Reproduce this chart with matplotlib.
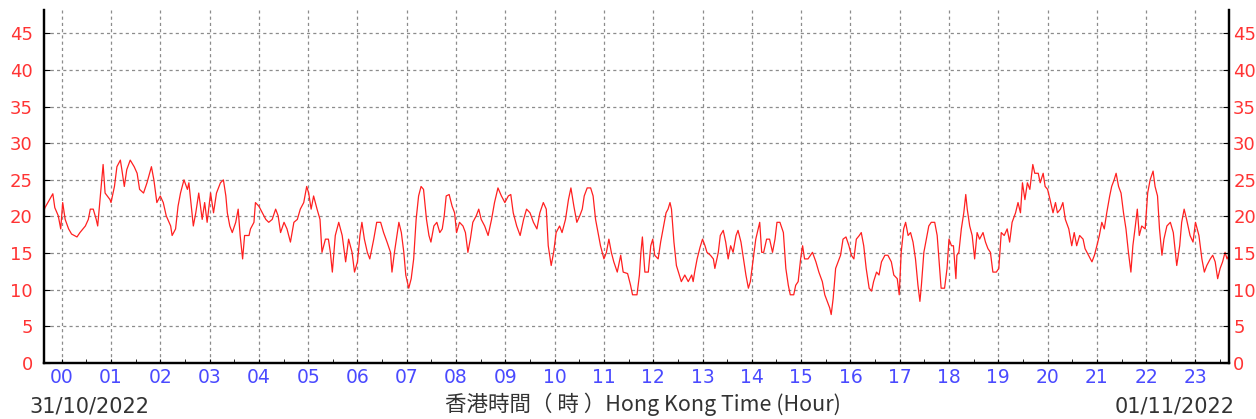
import matplotlib
matplotlib.use("Agg")
import matplotlib.pyplot as plt
from matplotlib.ticker import MultipleLocator

# hour of day (fractional) and reading
hours = [
    -0.36, -0.34, -0.18, -0.14, -0.07, -0.02, 0.02, 0.07, 0.14, 0.20, 0.31, 0.37, 0.48, 0.54, 0.58, 0.64,
    0.70, 0.73, 0.84, 0.88, 0.98, 1.00, 1.07, 1.12, 1.19, 1.22, 1.27, 1.32, 1.39, 1.47, 1.53, 1.58,
    1.66, 1.73, 1.82, 1.87, 1.93, 2.00, 2.06, 2.12, 2.21, 2.24, 2.31, 2.36, 2.41, 2.48, 2.55, 2.58,
    2.63, 2.67, 2.72, 2.78, 2.85, 2.90, 2.95, 3.02, 3.08, 3.14, 3.22, 3.28, 3.33, 3.36, 3.41, 3.46,
    3.53, 3.58, 3.62, 3.67, 3.71, 3.80,
    3.83, 3.90, 3.93, 4.00, 4.07, 4.14, 4.20, 4.27, 4.34, 4.39, 4.44, 4.51, 4.57, 4.64, 4.71, 4.78,
    4.84, 4.91, 4.97, 5.01, 5.06, 5.11, 5.18, 5.24, 5.28, 5.35, 5.41, 5.45, 5.49, 5.55, 5.62, 5.69,
    5.76, 5.82, 5.89, 5.94, 6.00, 6.05, 6.09, 6.14, 6.20, 6.25, 6.33, 6.39, 6.47, 6.53, 6.60, 6.67,
    6.70, 6.75, 6.80, 6.84, 6.89, 6.94, 6.98, 7.04, 7.09, 7.14, 7.19, 7.24, 7.29, 7.34, 7.40, 7.45,
    7.49, 7.55, 7.61, 7.67, 7.72, 7.76,
    7.80, 7.86, 7.92, 7.97, 8.01, 8.07, 8.14, 8.19, 8.24, 8.29, 8.34, 8.41, 8.46, 8.51, 8.58, 8.65,
    8.72, 8.78, 8.85, 8.92, 8.99, 9.06, 9.11, 9.16, 9.23, 9.30, 9.37, 9.43, 9.50, 9.57, 9.64, 9.70,
    9.77, 9.83, 9.87, 9.93, 9.98, 10.03, 10.10, 10.15, 10.22, 10.28, 10.33, 10.39, 10.45, 10.51, 10.56, 10.60,
    10.66, 10.73, 10.78, 10.83, 10.88, 10.93, 11.00, 11.05, 11.10, 11.15, 11.20, 11.27, 11.34, 11.39, 11.48, 11.54,
    11.58, 11.67, 11.72, 11.75, 11.78,
    11.83, 11.90, 11.95, 11.99, 12.03, 12.10, 12.15, 12.20, 12.26, 12.30, 12.34, 12.37, 12.42, 12.47, 12.53, 12.57,
    12.64, 12.71, 12.78, 12.81, 12.84, 12.89, 12.95, 13.00, 13.05, 13.09, 13.16, 13.22, 13.25, 13.32, 13.36, 13.42,
    13.47, 13.52, 13.57, 13.62, 13.68, 13.72, 13.78, 13.82, 13.88, 13.93, 13.97, 14.03, 14.08, 14.13, 14.16, 14.20,
    14.24, 14.30, 14.36, 14.42, 14.47, 14.51, 14.57, 14.64, 14.69, 14.74, 14.78, 14.85, 14.89, 14.94, 14.99, 15.03,
    15.07, 15.14, 15.23, 15.30, 15.36, 15.43, 15.48, 15.53, 15.58, 15.61, 15.65, 15.70, 15.75, 15.80, 15.85, 15.91,
    15.97, 16.02, 16.07, 16.12, 16.18, 16.22, 16.27, 16.32, 16.38, 16.43, 16.47, 16.53, 16.58, 16.63, 16.70, 16.76,
    16.83, 16.88, 16.95, 16.99, 17.03, 17.08, 17.12, 17.17, 17.22, 17.27, 17.32, 17.37, 17.41, 17.44, 17.49, 17.54,
    17.59, 17.64, 17.71, 17.76, 17.81, 17.84, 17.91, 17.96, 18.00, 18.05, 18.09, 18.14, 18.16, 18.20, 18.25, 18.30,
    18.34, 18.37, 18.42, 18.47, 18.52, 18.57, 18.62, 18.69, 18.74, 18.79, 18.84, 18.89, 18.96, 19.01, 19.06, 19.12,
    19.18, 19.23, 19.28, 19.35, 19.40, 19.45, 19.49, 19.54, 19.59, 19.64, 19.70, 19.74, 19.81,
    19.85, 19.91, 19.95, 20.00, 20.05, 20.11, 20.16, 20.20, 20.26, 20.31, 20.36, 20.43, 20.49, 20.54, 20.59, 20.65,
    20.72, 20.76, 20.83, 20.90, 20.95, 21.00, 21.05, 21.10, 21.15, 21.20, 21.26, 21.30, 21.35, 21.39, 21.44, 21.49,
    21.54, 21.59, 21.64, 21.69, 21.73, 21.78, 21.82, 21.86, 21.91, 21.98, 22.03, 22.08, 22.14, 22.18, 22.23, 22.27,
    22.32, 22.36, 22.42, 22.49, 22.55, 22.62, 22.68, 22.72, 22.77, 22.82, 22.89, 22.95, 23.00, 23.07, 23.13, 23.18,
    23.23, 23.30, 23.35, 23.40, 23.45, 23.50, 23.55, 23.60, 23.64, 23.68,
]
values = [
    20.8, 21.2, 23.1, 21.2, 20.1, 18.3, 21.9, 19.6, 18.3, 17.6, 17.2, 17.8, 18.7, 19.6, 21.0, 21.0,
    19.6, 18.7, 27.1, 23.2, 22.3, 21.9, 24.1, 26.8, 27.7, 26.4, 24.1, 26.4, 27.7, 26.8, 25.9, 23.7,
    23.2, 24.6, 26.8, 25.0, 21.9, 22.8, 21.9, 20.1, 18.7, 17.4, 18.3, 21.4, 23.2, 25.0, 23.7, 24.6,
    21.4, 18.7, 20.5, 23.2, 19.6, 21.9, 19.2, 23.2, 20.5, 23.2, 24.6, 25.0, 22.8, 20.5, 18.7, 17.8,
    19.2, 21.0, 17.4, 14.2, 17.4, 17.4,
    18.3, 19.2, 21.9, 21.4, 20.5, 19.6, 19.2, 19.6, 21.0, 20.1, 17.8, 19.2, 18.3, 16.5, 19.2, 19.6,
    21.0, 21.9, 24.1, 23.2, 21.0, 22.8, 21.0, 19.6, 15.1, 16.9, 16.9, 15.1, 12.4, 17.4, 19.2, 17.4,
    13.8, 16.9, 15.1, 12.4, 13.8, 17.4, 19.2, 16.9, 15.1, 14.2, 16.9, 19.2, 19.2, 17.8, 16.5, 15.1,
    12.4, 15.1, 17.4, 19.2, 17.8, 15.1, 12.0, 10.2, 11.5, 14.2, 19.6, 22.8, 24.1, 23.7, 19.6, 17.4,
    16.5, 18.7, 19.2, 17.8, 18.3, 20.1,
    22.8, 23.0, 21.4, 20.5, 17.8, 19.2, 18.7, 17.8, 15.1, 16.9, 19.2, 20.1, 21.0, 19.6, 18.7, 17.4,
    19.6, 21.9, 23.9, 22.8, 21.9, 22.8, 23.0, 20.5, 18.7, 17.4, 19.6, 21.0, 20.5, 19.2, 18.3, 20.5,
    21.9, 21.0, 16.0, 13.3, 15.1, 17.8, 18.7, 17.8, 19.6, 22.3, 23.9, 21.4, 19.2, 20.1, 21.0, 22.8,
    23.9, 23.9, 22.8, 19.6, 17.8, 16.0, 14.2, 15.1, 16.9, 15.1, 13.8, 12.4, 14.7, 12.4, 12.2, 10.6,
    9.3, 9.3, 12.0, 15.1, 17.2,
    12.4, 12.4, 16.0, 16.9, 14.7, 14.2, 16.5, 18.3, 20.5, 21.0, 21.9, 21.0, 16.5, 13.3, 12.0, 11.1,
    12.0, 11.1, 12.0, 11.1, 12.4, 14.2, 15.8, 16.9, 16.0, 15.1, 14.7, 14.2, 12.9, 15.1, 17.4, 18.1,
    16.5, 14.2, 16.0, 15.1, 17.4, 18.1, 16.5, 14.7, 12.0, 10.2, 11.1, 14.2, 16.9, 18.3, 19.2, 15.1,
    15.1, 16.9, 16.9, 15.1, 16.9, 19.2, 19.2, 17.8, 12.9, 10.6, 9.3, 9.3, 10.6, 11.1, 14.2, 16.0,
    14.2, 14.2, 15.1, 13.8, 12.4, 11.1, 9.3, 8.4, 7.5, 6.6, 8.8, 12.9, 13.8, 14.7, 16.9, 17.2,
    16.0, 14.7, 14.2, 16.9, 17.4, 17.8, 16.0, 12.9, 10.2, 9.8, 11.1, 12.4, 12.0, 13.8, 14.7, 14.7,
    13.8, 12.0, 11.5, 9.3, 15.1, 18.3, 19.2, 17.4, 17.8, 16.5, 14.2, 10.6, 8.4, 10.6, 15.1, 16.9,
    18.7, 19.2, 19.2, 17.4, 12.9, 10.2, 10.2, 12.9, 16.9, 16.0, 16.0, 11.5, 14.7, 15.1, 18.3, 20.5,
    23.0, 21.0, 18.7, 17.4, 14.2, 17.8, 16.9, 17.8, 16.5, 15.6, 15.1, 12.4, 12.4, 12.9, 17.8, 17.4,
    18.3, 16.5, 19.2, 20.5, 21.9, 20.5, 24.6, 22.3, 24.6, 23.7, 27.1, 25.9, 25.9,
    24.6, 25.9, 24.1, 23.7, 22.3, 20.5, 21.9, 20.5, 21.0, 21.9, 19.6, 18.3, 16.0, 17.8, 16.0, 17.4,
    16.9, 15.6, 14.7, 13.8, 14.7, 16.0, 17.4, 19.2, 18.3, 20.5, 22.8, 24.1, 25.0, 25.9, 24.1, 23.2,
    20.5, 18.3, 15.1, 12.4, 16.0, 18.7, 21.0, 17.4, 18.7, 18.3, 23.2, 25.0, 26.2, 24.1, 22.8, 18.3,
    14.7, 16.9, 18.7, 19.2, 17.8, 13.3, 16.0, 19.2, 21.0, 19.6, 17.4, 16.5, 19.2, 17.4, 14.2, 12.4,
    13.3, 14.2, 14.7, 13.8, 11.5, 12.9, 13.8, 15.1, 14.2, 14.7,
]
hour_labels = ["%02d" % h for h in range(24)]
y_ticks = list(range(0, 50, 5))

fig = plt.figure(figsize=(12.56, 4.19), dpi=100)
ax = fig.add_axes([0.035, 0.134, 0.9435, 0.842])

ax.plot(hours, values, color="#ff2020", lw=0.9, zorder=3)

ax.set_xlim(-0.36, 23.68)
ax.set_ylim(0, 48.2)
ax.set_xticks(range(24))
ax.set_xticklabels(hour_labels)
ax.xaxis.set_minor_locator(MultipleLocator(0.5))
ax.set_yticks(y_ticks)

ax.grid(True, color="#8c8c8c", linestyle=(0, (2.5, 2.5)), lw=0.9)
ax.tick_params(axis="x", which="both", direction="in", length=3, colors="black",
               labelcolor="#4a4aff", labelsize=13.5, pad=4)
ax.tick_params(axis="y", direction="in", length=4, labelcolor="#ff3333",
               labelsize=13, pad=8)

# right side labels, closer to the spine than the left ones
ax2 = ax.twinx()
ax2.set_ylim(ax.get_ylim())
ax2.set_yticks(y_ticks)
ax2.tick_params(axis="y", direction="in", length=4, labelcolor="#ff3333",
                labelsize=13, pad=3)

for a in (ax, ax2):
    a.spines["top"].set_visible(False)
    for s in ["left", "right", "bottom"]:
        a.spines[s].set_linewidth(1.6)

fig.text(0.023, 0.007, "31/10/2022", fontsize=15, color="#333333", ha="left", va="bottom")
fig.text(0.983, 0.007, "01/11/2022", fontsize=15, color="#333333", ha="right", va="bottom")
fig.text(0.512, 0.007, "香港時間（ 時 ）Hong Kong Time (Hour)", fontsize=15.5,
         color="#333333", ha="center", va="bottom",
         family=["Noto Sans CJK TC", "DejaVu Sans"])

fig.savefig("out.png", dpi=100)
